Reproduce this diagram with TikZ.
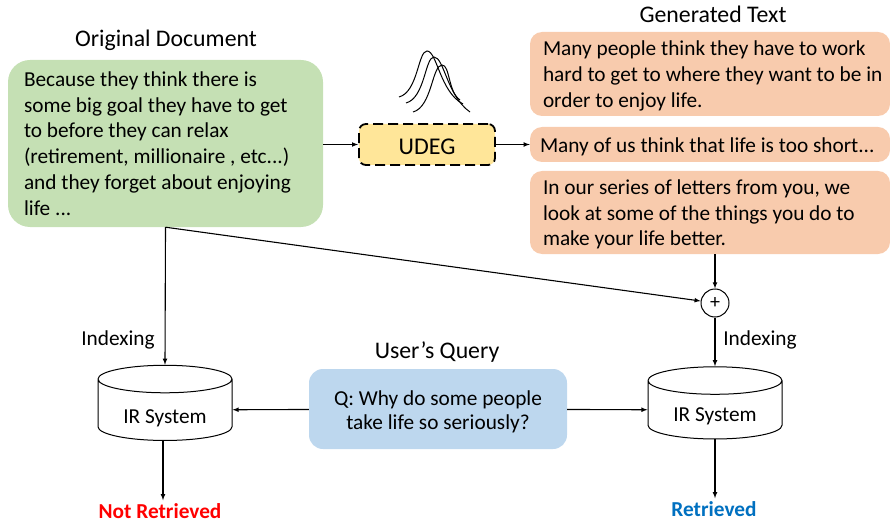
\documentclass[tikz,border=0pt]{standalone}
\usepackage{fontspec}
\setmainfont{Carlito}
\usetikzlibrary{arrows}
\usetikzlibrary{shapes.geometric}
\definecolor{bubblegreen}{HTML}{C5E0B4}
\definecolor{bubblepeach}{HTML}{F8CBAD}
\definecolor{bubbleblue}{HTML}{BDD7EE}
\definecolor{udegyellow}{HTML}{FFE699}
\definecolor{retrblue}{HTML}{0070C0}
\tikzstyle{flow}=[x=1pt, y=-1pt, font=\fontsize{21.3}{25.7}\selectfont]
\tikzstyle{lbl}=[inner sep=0pt]
\tikzstyle{title}=[inner sep=0pt, font=\fontsize{23.8}{28}\selectfont]
\tikzstyle{mid}=[font=\fontsize{21.3}{24.5}\selectfont]
\tikzstyle{source}=[rectangle, rounded corners=22pt, fill=bubblegreen, inner sep=0pt, minimum width=315pt, minimum height=167pt, text width=283pt, align=flush left]
\tikzstyle{gen}=[rectangle, rounded corners=12pt, fill=bubblepeach, inner sep=0pt, minimum width=360pt, text width=334pt, align=flush left, text height=19pt, font=\fontsize{21.3}{25.7}\selectfont]
\tikzstyle{query}=[rectangle, rounded corners=14pt, fill=bubbleblue, inner sep=0pt, minimum width=258pt, minimum height=80pt, text width=258pt, align=flush center, text height=20pt, mid]
\tikzstyle{udeg}=[rectangle, rounded corners=7pt, draw, line width=1.8pt, dash pattern=on 10pt off 5pt, fill=udegyellow, minimum width=136pt, minimum height=41pt, text height=20pt, font=\fontsize{24}{28}\selectfont]
\tikzstyle{irsys}=[cylinder, shape border rotate=90, aspect=0.33, draw, line width=1pt, fill=white, inner sep=0pt, minimum width=134pt, minimum height=66pt, mid]
\tikzstyle{sum}=[circle, draw, line width=1pt, fill=white, inner sep=0pt, minimum size=28pt, font=\fontsize{20}{20}\selectfont]
\tikzstyle{edge}=[->, line width=1.1pt, -latex]
\tikzstyle{bump}=[line width=1pt]
\begin{document}
\begin{tikzpicture}[flow]
	\useasboundingbox (0,0) rectangle (890,521);
	
	%The titles
	\draw (166,40) node[title] (origtitle) {Original Document};
	\draw (713,14) node[title] (gentitle) {Generated Text};
	\draw (437,352) node[title] (querytitle) {User’s Query};
	
	%The document
	\draw (165.5,143.5) node[source] (doc) {Because they think there is\\some big goal they have to get\\to before they can relax\\(retirement, millionaire , etc...)\\and they forget about enjoying\\life ...};
	
	%The generator
	\draw (427,144.5) node[udeg] (udeg) {UDEG};
	
	%The curves above it
	\draw[bump] (399,97) .. controls (418,92) and (418,51) .. (427,51) .. controls (437,51) and (440,92) .. (463,104);
	\draw[bump] (406,103) .. controls (425,98) and (425,57) .. (434,57) .. controls (444,57) and (447,96) .. (470,112);
	\draw[bump] (413,112) .. controls (432,107) and (432,65) .. (442,65) .. controls (450,65) and (448,92) .. (460,100);
	
	%The generated text
	\draw (710,74) node[gen, minimum height=84pt] (gen1) {Many people think they have to work\\\mbox{hard to get to where they want to be in}\\order to enjoy life.};
	\draw (710,144.5) node[gen, minimum height=35pt, text width=340pt] (gen2) {Many of us think that life is too short...};
	\draw (710,212.5) node[gen, minimum height=83pt] (gen3) {In our series of letters from you, we\\look at some of the things you do to\\make your life better.};
	
	%The merge
	\draw (715,303) node[sum] (plus) {+};
	
	%The query
	\draw (438,409) node[query] (ask) {Q: Why do some people\\take life so seriously?};
	
	%The IR systems
	\draw (165,410) node[irsys, text height=30pt] (irleft) {IR System};
	\draw (715,410) node[irsys, text height=27pt] (irright) {IR System};
	
	%The results
	\draw (160,511) node[lbl, text=red, font=\fontsize{21.3}{24}\selectfont\bfseries] (notret) {Not Retrieved};
	\draw (714,509) node[lbl, text=retrblue, font=\fontsize{21.3}{24}\selectfont\bfseries] (ret) {Retrieved};
	
	%The index labels
	\draw (118,340) node[lbl, mid] (indexleft) {Indexing};
	\draw (760,340) node[lbl, mid] (indexright) {Indexing};
	
	%The connectors
	\draw[edge] (doc.east |- udeg) -- (udeg);
	\draw[edge] (udeg) -- (gen2);
	\draw[edge] (doc.south) -- (irleft.north);
	\draw[edge] (doc.south) -- (plus);
	\draw[edge] (gen3.south -| plus) -- (plus);
	\draw[edge] (plus) -- (irright.north);
	\draw[edge] (ask) -- (irleft);
	\draw[edge] (ask) -- (irright);
	\draw[edge] ([xshift=-2pt]irleft.south) -- ([xshift=-2pt,yshift=3pt]notret.north -| irleft.south);
	\draw[edge] (irright.south) -- ([yshift=3pt]ret.north -| irright.south);
\end{tikzpicture}
\end{document}
